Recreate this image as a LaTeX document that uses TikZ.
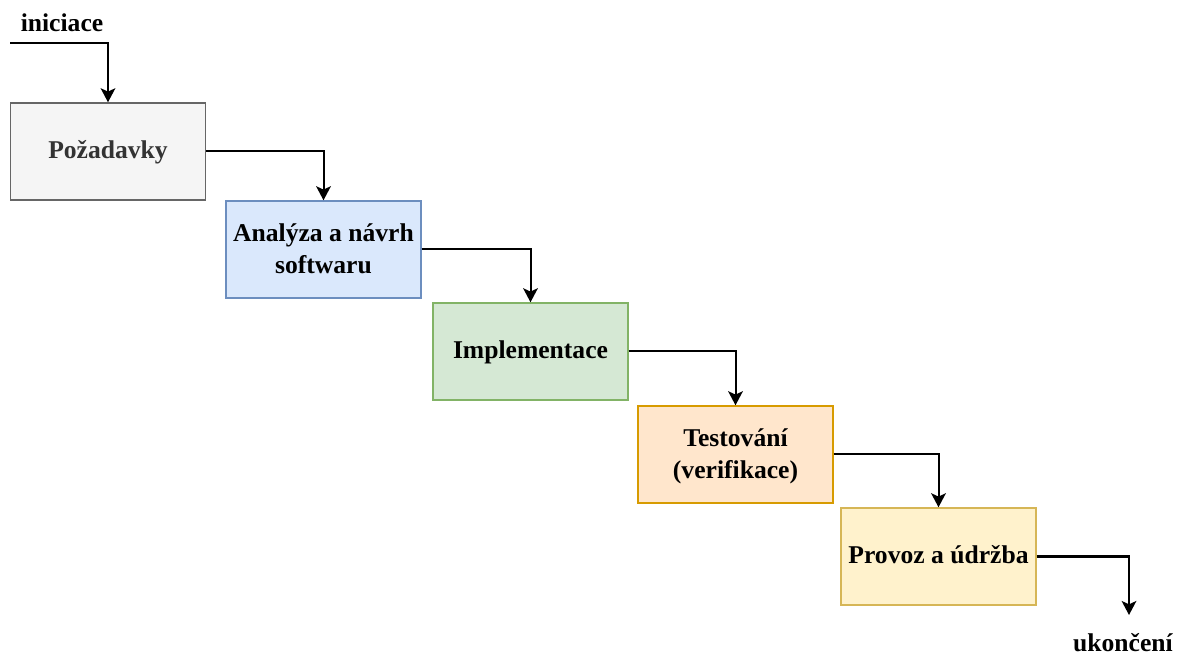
\documentclass[tikz,border=0pt]{standalone}
\usepackage{fontspec}
\setmainfont{Liberation Serif}
\usetikzlibrary{arrows.meta}
\definecolor{grayfill}{HTML}{F5F5F5}
\definecolor{graystroke}{HTML}{666666}
\definecolor{graytext}{HTML}{333333}
\definecolor{bluefill}{HTML}{DAE8FC}
\definecolor{bluestroke}{HTML}{6C8EBF}
\definecolor{greenfill}{HTML}{D5E8D4}
\definecolor{greenstroke}{HTML}{82B366}
\definecolor{orangefill}{HTML}{FFE6CC}
\definecolor{orangestroke}{HTML}{D79B00}
\definecolor{yellowfill}{HTML}{FFF2CC}
\definecolor{yellowstroke}{HTML}{D6B656}
% struts that set where the lines of a box sit
\newcommand{\oneline}{\rule[-4.2pt]{0pt}{19.2pt}}
\newcommand{\topline}{\rule{0pt}{16.5pt}}
\newcommand{\lastline}{\rule[-4.2pt]{0pt}{0pt}}
\begin{document}
\begin{tikzpicture}[x=0.75pt,y=-0.75pt,
  phase/.style={draw,line width=1.1pt,minimum width=146pt,minimum height=72.75pt,
    inner sep=2pt,align=center,font=\fontsize{19.2}{24}\selectfont\bfseries},
  flow/.style={line width=1.5pt,-{Stealth[length=10.5pt,width=11pt,inset=2.5pt]}},
  lbl/.style={font=\fontsize{19.2}{24}\selectfont\bfseries,inner sep=0pt,anchor=base}]
  \useasboundingbox (0,0) rectangle (1178,655);
  % process phases
  \node[phase,fill=grayfill,draw=graystroke,text=graytext] (req) at (108,151.5) {\oneline Požadavky};
  \node[phase,fill=bluefill,draw=bluestroke] (ana) at (323.5,249.5) {\topline Analýza a návrh\\softwaru\lastline};
  \node[phase,fill=greenfill,draw=greenstroke] (impl) at (530.5,351.5) {\oneline Implementace};
  \node[phase,fill=orangefill,draw=orangestroke] (test) at (735.5,454.5) {\topline Testování\\(verifikace)\lastline};
  \node[phase,fill=yellowfill,draw=yellowstroke] (ops) at (938.5,556.5) {\oneline Provoz a údržba};
  % entry and exit
  \coordinate (start) at (10,43);
  \coordinate (stop) at (1129,615);
  \node[lbl] (ini) at (62,31.5) {iniciace};
  \node[lbl] (end) at (1123,651) {ukončení};
  % connectors
  \draw[flow] (start) -| (req.north);
  \draw[flow] (req.east) -| (ana.north);
  \draw[flow] (ana.east) -| (impl.north);
  \draw[flow] (impl.east) -| (test.north);
  \draw[flow] (test.east) -| (ops.north);
  \draw[flow] (ops.east) -| (stop);
\end{tikzpicture}
\end{document}
